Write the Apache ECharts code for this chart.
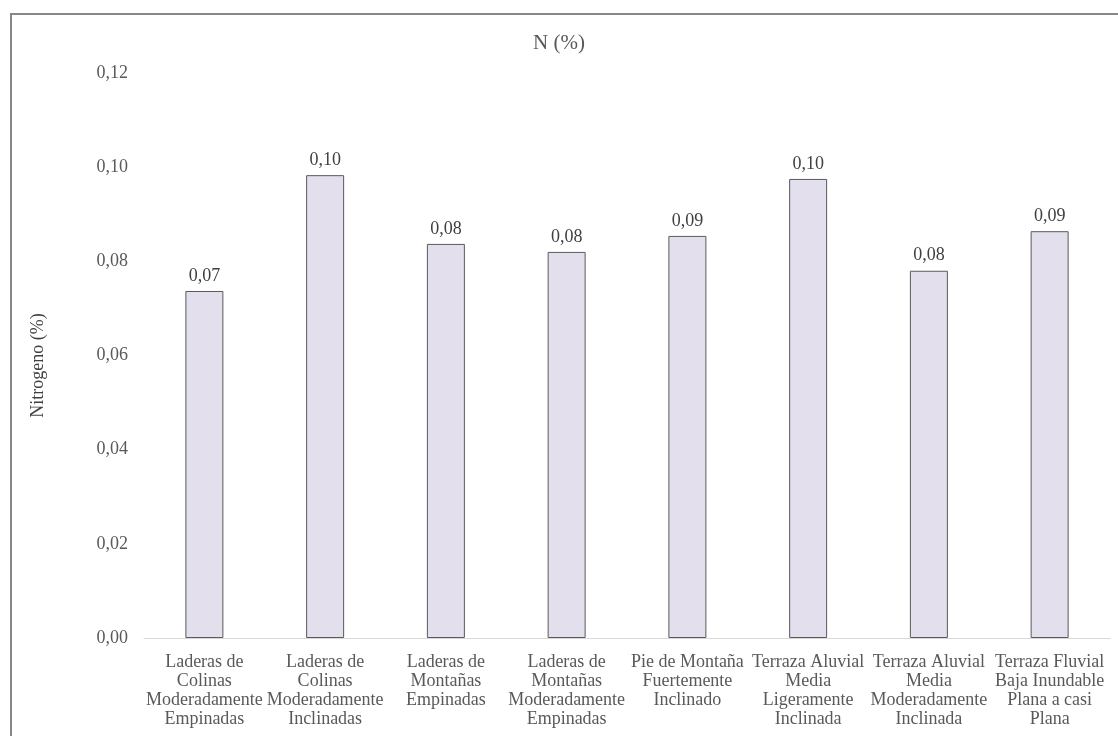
<!DOCTYPE html>
<html>
<head>
<meta charset="utf-8">
<style>
  html, body { margin: 0; padding: 0; background: #fff; }
  #chart { width: 1118px; height: 736px; }
</style>
<script src="https://cdn.jsdelivr.net/npm/echarts@6/dist/echarts.min.js"></script>
</head>
<body>
<div id="chart"></div>
<script>
// Landform units (categories) and mean nitrogen content (%)
const categories = [
  'Laderas de\nColinas\nModeradamente\nEmpinadas',
  'Laderas de\nColinas\nModeradamente\nInclinadas',
  'Laderas de\nMontañas\nEmpinadas',
  'Laderas de\nMontañas\nModeradamente\nEmpinadas',
  'Pie de Montaña\nFuertemente\nInclinado',
  'Terraza Aluvial\nMedia\nLigeramente\nInclinada',
  'Terraza Aluvial\nMedia\nModeradamente\nInclinada',
  'Terraza Fluvial\nBaja Inundable\nPlana a casi\nPlana'
];
const nitrogen = [0.0737, 0.0983, 0.0837, 0.0820, 0.0854, 0.0975, 0.0780, 0.0864];

const titleText = 'N (%)';
const yAxisName = 'Nitrogeno (%)';

const fmt = v => v.toFixed(2).replace('.', ',');
const serif = '"Liberation Serif", "Times New Roman", serif';
const textGray = '#595959';

const chart = echarts.init(document.getElementById('chart'));
chart.setOption({
  animation: false,
  textStyle: { fontFamily: serif },
  title: {
    text: titleText,
    left: 'center',
    top: 28,
    textStyle: { fontFamily: serif, fontSize: 21, fontWeight: 'normal', color: textGray }
  },
  graphic: [{
    type: 'rect',
    shape: { x: 11, y: 14, width: 1200, height: 800 },
    style: { fill: 'none', stroke: '#878787', lineWidth: 2 },
    silent: true,
    z: 100
  }],
  grid: { left: 144, right: 8, top: 73, bottom: 98 },
  xAxis: {
    type: 'category',
    data: categories,
    axisLine: { show: true, lineStyle: { color: '#d9d9d9', width: 1 } },
    axisTick: { show: false },
    axisLabel: {
      interval: 0,
      color: textGray,
      fontFamily: serif,
      fontSize: 18,
      lineHeight: 19,
      margin: 15
    }
  },
  yAxis: {
    type: 'value',
    min: 0,
    max: 0.12,
    interval: 0.02,
    name: yAxisName,
    nameLocation: 'middle',
    nameGap: 97,
    nameTextStyle: { color: '#404040', fontFamily: serif, fontSize: 18, padding: [0, 20, 0, 0] },
    axisLine: { show: false },
    axisTick: { show: false },
    splitLine: { show: false },
    axisLabel: {
      color: textGray,
      fontFamily: serif,
      fontSize: 18,
      margin: 16,
      formatter: v => fmt(v)
    }
  },
  series: [{
    type: 'bar',
    data: nitrogen,
    barWidth: 38,
    itemStyle: { color: '#e4dfec', borderColor: '#5a5a5a', borderWidth: 1 },
    label: {
      show: true,
      position: 'top',
      distance: 6,
      color: '#404040',
      fontFamily: serif,
      fontSize: 18,
      formatter: p => fmt(p.value)
    }
  }]
});
</script>
</body>
</html>
